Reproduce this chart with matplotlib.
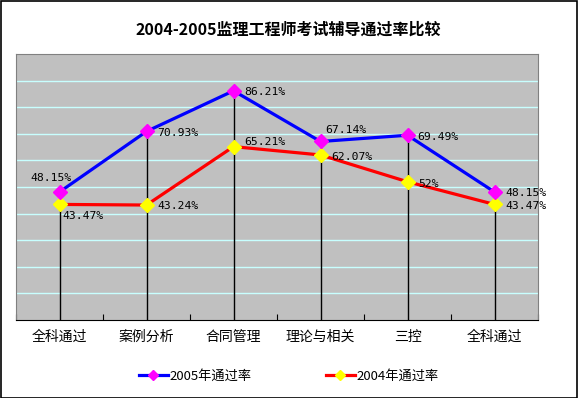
import matplotlib.pyplot as plt
from matplotlib.patches import Rectangle

plt.rcParams['font.family'] = ['Noto Sans CJK SC', 'DejaVu Sans']

# datos
categorias = ['全科通过', '案例分析', '合同管理', '理论与相关', '三控', '全科通过']
tasa_2005 = [48.15, 70.93, 86.21, 67.14, 69.49, 48.15]
tasa_2004 = [43.47, 43.24, 65.21, 62.07, 52, 43.47]
etiquetas_2005 = ['48.15%', '70.93%', '86.21%', '67.14%', '69.49%', '48.15%']
etiquetas_2004 = ['43.47%', '43.24%', '65.21%', '62.07%', '52%', '43.47%']

# desplazamientos de las etiquetas (pixeles)
offs_2005 = [(-9, 14, 'center'), (11, -2, 'left'), (11, -1, 'left'),
             (5, 11, 'left'), (10, -2, 'left'), (11, -1, 'left')]
offs_2004 = [(3, -12, 'left'), (11, -1, 'left'), (11, 5, 'left'),
             (11, -2, 'left'), (11, -2, 'left'), (11, -2, 'left')]

fig = plt.figure(figsize=(5.78, 3.98), dpi=100)
fig.patches.append(Rectangle((0.001, 0.001), 0.997, 0.996, transform=fig.transFigure,
                             fill=False, edgecolor='black', linewidth=1.2))
ax = fig.add_axes([0.0277, 0.196, 0.9031, 0.668])
ax.set_facecolor('#C0C0C0')

x = [i + 0.5 for i in range(len(categorias))]

ax.set_xlim(0, len(categorias))
ax.set_ylim(0, 100)
for g in range(10, 100, 10):
    ax.axhline(g, color='#C8FFFF', linewidth=1, zorder=1)

# lineas de caida
ax.vlines(x, 0, [max(a, b) for a, b in zip(tasa_2005, tasa_2004)],
          color='black', linewidth=1, zorder=2)

ax.plot(x, tasa_2005, color='#0000FF', lw=2.3, marker='D', markersize=7,
        markerfacecolor='#FF00FF', markeredgecolor='#FF00FF', zorder=4,
        label='2005年通过率')
ax.plot(x, tasa_2004, color='#FF0000', lw=2.3, marker='D', markersize=7,
        markerfacecolor='#FFFF00', markeredgecolor='#FFFF00', zorder=3,
        label='2004年通过率')

for xi, yi, txt, (dx, dy, ha) in zip(x, tasa_2005, etiquetas_2005, offs_2005):
    ax.annotate(txt, (xi, yi), xytext=(dx, dy), textcoords='offset pixels',
                ha=ha, va='center', fontsize=8.2, family='DejaVu Sans Mono', zorder=5)
for xi, yi, txt, (dx, dy, ha) in zip(x, tasa_2004, etiquetas_2004, offs_2004):
    ax.annotate(txt, (xi, yi), xytext=(dx, dy), textcoords='offset pixels',
                ha=ha, va='center', fontsize=8.2, family='DejaVu Sans Mono', zorder=5)

ax.set_xticks(range(len(categorias) + 1))
ax.set_xticklabels([])
ax.tick_params(axis='x', which='major', direction='in', length=4, color='black')
ax.set_xticks(x, minor=True)
ax.set_xticklabels(categorias, minor=True, fontsize=10)
ax.tick_params(axis='x', which='minor', length=0, pad=7)
ax.set_yticks([])

for lado in ['left', 'top', 'right']:
    ax.spines[lado].set_color('#808080')
ax.spines['bottom'].set_color('black')

fig.text(0.498, 0.926, '2004-2005监理工程师考试辅导通过率比较', ha='center', va='center',
         fontsize=11.5, fontweight='bold')

fig.legend(loc='center', bbox_to_anchor=(0.5, 0.055), ncol=2, frameon=False,
           fontsize=9.5, handlelength=2.2, columnspacing=5.6, handletextpad=0.15,
           markerscale=0.7)

fig.savefig('out.png', dpi=100)
